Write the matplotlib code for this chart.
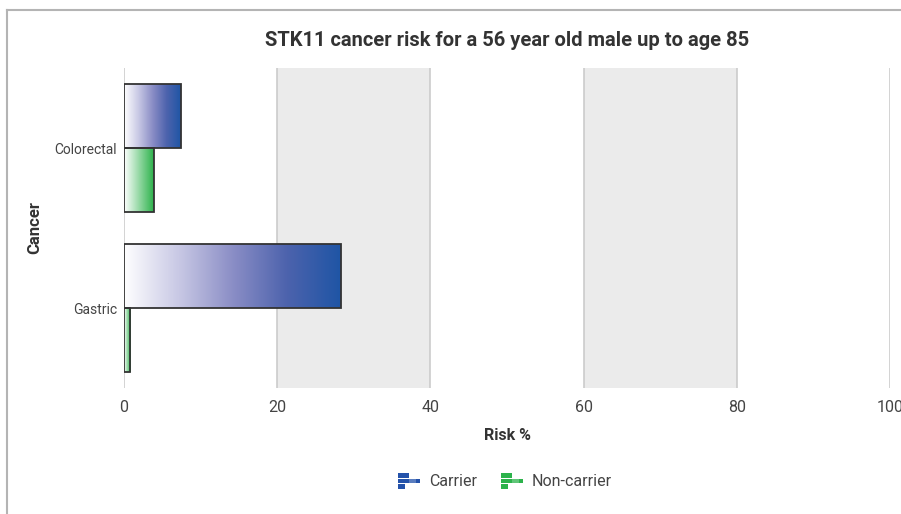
import matplotlib
matplotlib.use('Agg')
import matplotlib.pyplot as plt
import numpy as np
from matplotlib.colors import LinearSegmentedColormap
from matplotlib.legend_handler import HandlerBase
from matplotlib.lines import Line2D
from matplotlib.patches import Rectangle

plt.rcParams['font.family'] = ['Roboto', 'DejaVu Sans']

cancers = ['Colorectal', 'Gastric']
carrier_risk = [7.4, 28.3]
noncarrier_risk = [3.9, 0.8]
x_ticks = [0, 20, 40, 60, 80, 100]

CARRIER_CMAP = LinearSegmentedColormap.from_list(
    'carrier', [(0.0, '#ffffff'), (0.25, '#c9c9e5'), (0.5, '#8b8ec6'),
                (0.75, '#4d63ad'), (1.0, '#1f55a5')])
NONCARRIER_CMAP = LinearSegmentedColormap.from_list(
    'noncarrier', [(0.0, '#ffffff'), (1.0, '#2cb24b')])
BAR_HEIGHT = 0.4
EDGE = '#333333'


def gradient_bar(ax, value, y0, y1, cmap):
    grad = np.linspace(0, 1, 256).reshape(1, -1)
    ax.imshow(grad, extent=(0, value, y1, y0), aspect='auto', cmap=cmap,
              interpolation='bilinear', zorder=2)
    ax.add_patch(Rectangle((0, y0), value, y1 - y0, fill=False,
                           edgecolor=EDGE, linewidth=1.3, zorder=3))


class BarIconHandler(HandlerBase):
    # little stacked-bar glyph used as legend key
    def create_artists(self, legend, orig_handle, xdescent, ydescent,
                       width, height, fontsize, trans):
        color = orig_handle.get_facecolor()
        x0, y0 = -xdescent, -ydescent
        rh = height * 0.28
        rows = [(0.5, 0.70), (1.0, 0.36), (0.32, 0.02)]
        artists = []
        for wf, yf in rows:
            r = Rectangle((x0, y0 + yf * height), width * wf, rh,
                          facecolor=color, edgecolor='none', transform=trans)
            artists.append(r)
        light = Rectangle((x0 + width * 0.5, y0 + 0.36 * height), width * 0.3, rh,
                          facecolor='white', alpha=0.25, edgecolor='none', transform=trans)
        artists.append(light)
        return artists


fig = plt.figure(figsize=(9.01, 5.14), dpi=100)
ax = fig.add_axes([124 / 901, 1 - 388 / 514, 766 / 901, 320 / 514])

# alternating shaded bands between gridlines
for a, b in [(20, 40), (60, 80)]:
    ax.axvspan(a, b, color='#ebebeb', zorder=0, linewidth=0)
for t in x_ticks:
    ax.axvline(t, color='#c8c8c8', linewidth=1.1, zorder=1)

for i, name in enumerate(cancers):
    gradient_bar(ax, carrier_risk[i], i - BAR_HEIGHT, i, CARRIER_CMAP)
    gradient_bar(ax, noncarrier_risk[i], i, i + BAR_HEIGHT, NONCARRIER_CMAP)

ax.set_xlim(0, 100)
ax.set_ylim(len(cancers) - 0.5, -0.5)
ax.set_xticks(x_ticks)
ax.set_yticks(range(len(cancers)))
ax.set_yticklabels(cancers, fontsize=10, color='#444444')
ax.tick_params(axis='x', length=0, pad=9, labelsize=11.5, labelcolor='#444444')
ax.tick_params(axis='y', length=0, pad=5)
for s in ax.spines.values():
    s.set_visible(False)

ax.set_xlabel('Risk %', fontsize=11.5, fontweight='bold', color='#333333', labelpad=9)
ax.set_ylabel('Cancer', fontsize=12, fontweight='bold', color='#333333', labelpad=9)
ax.set_title('STK11 cancer risk for a 56 year old male up to age 85',
             fontsize=14.5, fontweight='bold', color='#333333', pad=16)

handles = [Rectangle((0, 0), 1, 1, facecolor='#2452aa'),
           Rectangle((0, 0), 1, 1, facecolor='#2cb24b')]
fig.legend(handles, ['Carrier', 'Non-carrier'], loc='center',
           bbox_to_anchor=(505 / 901, 1 - 481 / 514), ncol=2, frameon=False,
           fontsize=11.5, labelcolor='#444444', handlelength=1.4, handleheight=1.3,
           handletextpad=0.55, columnspacing=1.5,
           handler_map={Rectangle: BarIconHandler()})

# outer frame lines along the top and left edge
fig.add_artist(Line2D([7 / 901, 1], [1 - 9.5 / 514] * 2, color='#b4b4b4', linewidth=1.5,
                      transform=fig.transFigure))
fig.add_artist(Line2D([7 / 901] * 2, [0, 1 - 9.5 / 514], color='#b4b4b4', linewidth=1.5,
                      transform=fig.transFigure))

fig.savefig('out.png', dpi=100)
